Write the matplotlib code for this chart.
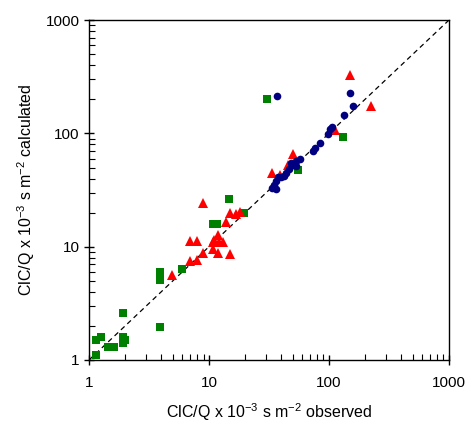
import matplotlib
matplotlib.use("Agg")
import matplotlib.pyplot as plt
from matplotlib.ticker import LogLocator, NullFormatter, FixedLocator

plt.rcParams["font.family"] = ["Liberation Sans", "DejaVu Sans"]
plt.rcParams["mathtext.fontset"] = "custom"
plt.rcParams["mathtext.rm"] = "Liberation Sans"

# green squares
sq_obs = [1.15, 1.15, 1.25, 1.45, 1.6, 1.9, 1.9, 1.9, 2.0, 3.9, 3.9, 3.9,
          5.9, 10.7, 11.7, 14.7, 19.4, 30.5, 55, 130]
sq_calc = [1.1, 1.5, 1.6, 1.3, 1.3, 2.6, 1.6, 1.4, 1.5, 1.95, 6.0, 5.1,
           6.3, 16, 16, 26.6, 20, 200, 48, 93]

# red triangles
tri_obs = [4.95, 7.0, 8.0, 6.9, 8.0, 8.9, 8.9, 10.8, 10.8, 11.1, 11.9, 12.1,
           13.0, 11.9, 14.9, 13.9, 14.9, 16.8, 18.0, 33.8, 39.4, 45.5, 50,
           113, 150, 225]
tri_calc = [5.6, 7.5, 7.7, 11.3, 11.3, 24.4, 8.8, 10.9, 9.6, 11.4, 12.7, 11.1,
            10.9, 8.8, 8.6, 16.6, 20, 19.5, 20.4, 44.3, 42.9, 52.4, 65.6,
            107, 330, 175]

# blue circles
circ_obs = [33.8, 34.6, 35.9, 36.4, 37.7, 40, 42.5, 44, 46.4, 50, 52.7, 48.5,
            52.7, 57, 73.6, 76, 84, 98, 103, 106, 133, 158, 150, 37]
circ_calc = [32.7, 34.9, 32.0, 38.2, 40.9, 41.5, 41.9, 44.3, 49, 52.4, 51.5,
             55, 57.5, 60, 70.3, 73.9, 83, 99, 109, 114, 146, 175, 228, 215]

one_to_one = [1, 1000]

fig = plt.figure(figsize=(4.69, 4.30), dpi=100)
ax = fig.add_axes([0.190, 0.163, 0.767, 0.790])

ax.plot(one_to_one, one_to_one, color="black", linestyle=(0, (4, 3)), linewidth=0.9)
ax.plot(sq_obs, sq_calc, linestyle="none", marker="s", markersize=5.5,
        color="#008000", markeredgewidth=0)
ax.plot(tri_obs, tri_calc, linestyle="none", marker="^", markersize=7,
        color="#ff0000", markeredgewidth=0)
ax.plot(circ_obs, circ_calc, linestyle="none", marker="o", markersize=5.5,
        color="#000080", markeredgewidth=0)

ax.set_xscale("log")
ax.set_yscale("log")
ax.set_xlim(1, 1000)
ax.set_ylim(1, 1000)

for axis in (ax.xaxis, ax.yaxis):
    axis.set_major_locator(FixedLocator([1, 10, 100, 1000]))
    axis.set_minor_locator(LogLocator(base=10, subs=range(2, 10)))
    axis.set_minor_formatter(NullFormatter())
ax.set_xticklabels(["1", "10", "100", "1000"])
ax.set_yticklabels(["1", "10", "100", "1000"])

ax.tick_params(which="major", direction="inout", length=7, width=1, labelsize=11)
ax.tick_params(which="minor", direction="in", length=4, width=0.8)
ax.tick_params(axis="x", pad=8)
for sp in ax.spines.values():
    sp.set_linewidth(1)

ax.set_xlabel("ClC/Q x 10$^{-3}$ s m$^{-2}$ observed", fontsize=11.5, labelpad=8)
ax.set_ylabel("ClC/Q x 10$^{-3}$ s m$^{-2}$ calculated", fontsize=11.5, labelpad=6)

fig.savefig("out.png", dpi=100)
